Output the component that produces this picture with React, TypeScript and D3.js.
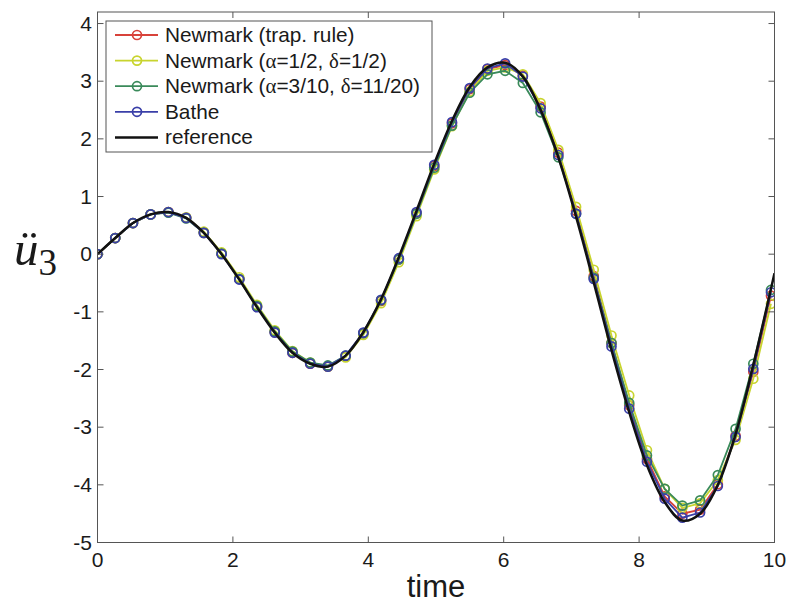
import React from 'react';
import * as d3 from 'd3';

// sample times of the integrators (dt ~ 0.26)
const times = [0, 0.262, 0.524, 0.785, 1.047, 1.309, 1.571, 1.833, 2.094, 2.356, 2.618, 2.88, 3.142, 3.403, 3.665, 3.927, 4.189, 4.451, 4.712, 4.974, 5.236, 5.498, 5.76, 6.021, 6.283, 6.545, 6.807, 7.069, 7.33, 7.592, 7.854, 8.116, 8.378, 8.639, 8.901, 9.163, 9.425, 9.687, 9.948];

const trapRule = [0, 0.28, 0.54, 0.69, 0.73, 0.63, 0.37, 0.01, -0.43, -0.91, -1.35, -1.71, -1.9, -1.95, -1.77, -1.37, -0.81, -0.09, 0.71, 1.53, 2.27, 2.86, 3.21, 3.28, 3.1, 2.56, 1.76, 0.75, -0.38, -1.54, -2.62, -3.55, -4.2, -4.5, -4.43, -3.99, -3.15, -2.04, -0.72];
const newmarkHalf = [0, 0.28, 0.54, 0.69, 0.73, 0.64, 0.39, 0.03, -0.4, -0.88, -1.32, -1.68, -1.88, -1.95, -1.79, -1.4, -0.85, -0.14, 0.66, 1.47, 2.22, 2.82, 3.18, 3.24, 3.12, 2.62, 1.81, 0.82, -0.27, -1.41, -2.45, -3.4, -4.07, -4.4, -4.32, -3.92, -3.22, -2.16, -0.86];
const newmarkDamped = [0, 0.28, 0.54, 0.69, 0.72, 0.62, 0.37, 0.01, -0.43, -0.9, -1.34, -1.69, -1.88, -1.93, -1.76, -1.37, -0.8, -0.09, 0.7, 1.5, 2.23, 2.8, 3.12, 3.18, 2.97, 2.46, 1.68, 0.7, -0.41, -1.54, -2.58, -3.49, -4.07, -4.36, -4.27, -3.83, -3.03, -1.9, -0.62];
const bathe = [0, 0.28, 0.54, 0.69, 0.73, 0.63, 0.37, 0, -0.44, -0.92, -1.36, -1.71, -1.9, -1.95, -1.76, -1.36, -0.79, -0.07, 0.73, 1.55, 2.29, 2.88, 3.22, 3.31, 3.08, 2.53, 1.72, 0.7, -0.43, -1.6, -2.68, -3.6, -4.24, -4.57, -4.48, -4.02, -3.17, -1.99, -0.66];

// reference solution (same grid, plus the end point t = 10)
const refTimes = [...times, 10];
const reference = [0, 0.28, 0.54, 0.69, 0.73, 0.63, 0.37, 0, -0.44, -0.92, -1.36, -1.71, -1.9, -1.95, -1.76, -1.35, -0.78, -0.05, 0.75, 1.57, 2.31, 2.9, 3.24, 3.32, 3.08, 2.5, 1.68, 0.65, -0.49, -1.66, -2.74, -3.66, -4.3, -4.62, -4.5, -4.0, -3.12, -1.92, -0.6, -0.33];

const xTicks = [0, 2, 4, 6, 8, 10];
const yTicks = [-5, -4, -3, -2, -1, 0, 1, 2, 3, 4];

const series = [
  { name: ['Newmark (trap. rule)'], values: trapRule, color: '#d8423a' },
  { name: ['Newmark (', 'α', '=1/2, ', 'δ', '=1/2)'], values: newmarkHalf, color: '#c8d42e' },
  { name: ['Newmark (', 'α', '=3/10, ', 'δ', '=11/20)'], values: newmarkDamped, color: '#3a8a5a' },
  { name: ['Bathe'], values: bathe, color: '#3a3fa8' },
];

const W = 791, H = 606;
const left = 97.5, right = 774.5, top = 12, bottom = 542.5;
const font = '"Liberation Sans", Arial, sans-serif';

export default function App() {
  const x = d3.scaleLinear().domain([0, 10]).range([left, right]);
  const y = d3.scaleLinear().domain([-5, 4.2]).range([bottom, top]);

  const line = d3.line<number>().x((_, i) => x(times[i])).y(d => y(d));
  const refLine = d3.line<number>().x((_, i) => x(refTimes[i])).y(d => y(d)).curve(d3.curveCatmullRom);

  const axisColor = '#555';
  const tickLen = 6;

  return (
    <svg width={W} height={H} style={{ position: 'fixed', left: 0, top: 0, background: '#fff' }}>
      <rect x={0} y={0} width={W} height={H} fill="#fff" />
      <defs>
        <clipPath id="plot">
          <rect x={left} y={top} width={right - left} height={bottom - top} />
        </clipPath>
      </defs>

      {/* data */}
      <g clipPath="url(#plot)">
        {series.map(s => (
          <g key={s.color}>
            <path d={line(s.values) || ''} fill="none" stroke={s.color} strokeWidth={1.8} />
            {s.values.map((v, i) => (
              <circle key={i} cx={x(times[i])} cy={y(v)} r={4.5} fill="none" stroke={s.color} strokeWidth={1.7} />
            ))}
          </g>
        ))}
        <path d={refLine(reference) || ''} fill="none" stroke="#111" strokeWidth={2.5} />
      </g>

      {/* box + ticks */}
      <rect x={left} y={top} width={right - left} height={bottom - top} fill="none" stroke={axisColor} strokeWidth={1} />
      {xTicks.map(t => (
        <g key={'x' + t}>
          <line x1={x(t)} x2={x(t)} y1={bottom} y2={bottom - tickLen} stroke={axisColor} />
          <line x1={x(t)} x2={x(t)} y1={top} y2={top + tickLen} stroke={axisColor} />
          <text x={x(t)} y={567} textAnchor="middle" fontFamily={font} fontSize={21} fill="#1a1a1a">{t}</text>
        </g>
      ))}
      {yTicks.map(t => (
        <g key={'y' + t}>
          <line x1={left} x2={left + tickLen} y1={y(t)} y2={y(t)} stroke={axisColor} />
          <line x1={right} x2={right - tickLen} y1={y(t)} y2={y(t)} stroke={axisColor} />
          <text x={92} y={y(t) + 7} textAnchor="end" fontFamily={font} fontSize={21} fill="#1a1a1a">{t}</text>
        </g>
      ))}

      {/* axis labels */}
      <text x={436} y={597} textAnchor="middle" fontFamily={font} fontSize={31} fill="#1a1a1a">time</text>
      <text x={14} y={265} fontFamily='"Liberation Serif", "DejaVu Serif", serif' fontStyle="italic" fontSize={49} fill="#1a1a1a">
        ü<tspan fontStyle="normal" fontSize={37} dy={10}>3</tspan>
      </text>

      {/* legend */}
      <rect x={106} y={21} width={326} height={131} fill="#fff" stroke={axisColor} strokeWidth={1} />
      {[...series, { name: ['reference'], values: [], color: '#111' }].map((s, i) => {
        const ly = 35 + i * 25.6;
        return (
          <g key={'l' + i}>
            <line x1={115} x2={158} y1={ly} y2={ly} stroke={s.color} strokeWidth={s.values.length ? 1.8 : 2.5} />
            {s.values.length > 0 && <circle cx={137} cy={ly} r={4.5} fill="none" stroke={s.color} strokeWidth={1.7} />}
            <text x={165} y={ly + 7} fontFamily={font} fontSize={20.8} fill="#1a1a1a">
              {s.name.map((part, k) =>
                part === 'α' || part === 'δ'
                  ? <tspan key={k} fontFamily='"Liberation Serif", serif'>{part}</tspan>
                  : <tspan key={k}>{part}</tspan>
              )}
            </text>
          </g>
        );
      })}
    </svg>
  );
}
